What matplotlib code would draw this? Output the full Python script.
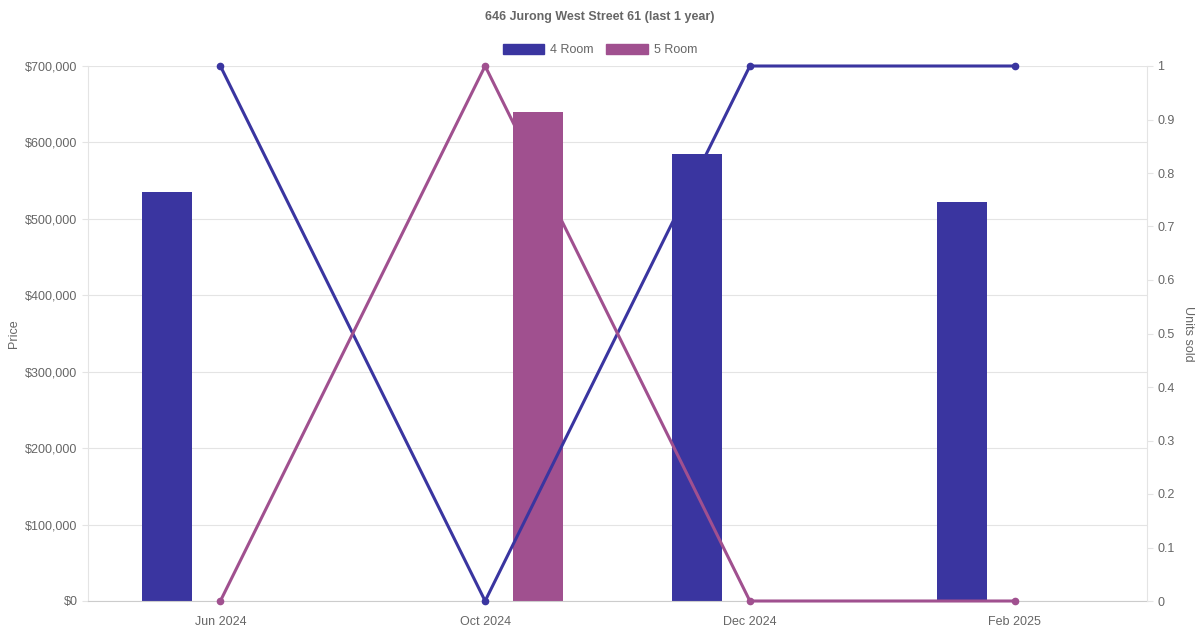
import numpy as np
import matplotlib
matplotlib.use('Agg')
import matplotlib.pyplot as plt
from matplotlib.patches import Patch

plt.rcParams['font.family'] = ['Liberation Sans', 'DejaVu Sans']

months = ['Jun 2024', 'Oct 2024', 'Dec 2024', 'Feb 2025']
price_4room = [535000, np.nan, 585000, 522000]
price_5room = [np.nan, 640000, np.nan, np.nan]
units_4room = [1, 0, 1, 1]
units_5room = [0, 1, 0, 0]

c4 = '#3a35a0'
c5 = '#a0508f'
txt = '#666666'
grid = '#e4e4e4'

fig = plt.figure(figsize=(12, 6.3), dpi=100)
ax = fig.add_axes([88/1200, 29/630, (1147-88)/1200, (601-66)/630])
ax2 = ax.twinx()

x = np.arange(len(months))
bw = 50/265.
ax.bar(x - 0.2, price_4room, width=bw, color=c4, zorder=2)
ax.bar(x + 0.2, price_5room, width=bw, color=c5, zorder=2)

ax.set_xlim(-0.5, 3.5)
ax.set_ylim(0, 700000)
ax.set_yticks(np.arange(0, 700001, 100000))
ax.set_yticklabels(['$' + format(v, ',') for v in range(0, 700001, 100000)])
ax.set_xticks(x)
ax.set_xticklabels(months)
ax.grid(axis='y', color=grid, lw=0.8, zorder=0)
ax.set_axisbelow(True)
ax.set_ylabel('Price', color=txt, fontsize=9)

ax2.plot(x, units_4room, color=c4, lw=2.2, marker='o', ms=4.5, zorder=3, clip_on=False)
ax2.plot(x, units_5room, color=c5, lw=2.2, marker='o', ms=4.5, zorder=3, clip_on=False)
ax2.set_ylim(0, 1)
ax2.set_yticks(np.arange(0, 1.01, 0.1))
ax2.set_yticklabels(['0', '0.1', '0.2', '0.3', '0.4', '0.5', '0.6', '0.7', '0.8', '0.9', '1'])
ax2.set_ylabel('Units sold', color=txt, fontsize=9, rotation=270, labelpad=14)

for a in (ax, ax2):
    for s in a.spines.values():
        s.set_visible(False)
    a.tick_params(colors=txt, labelsize=9, length=4, width=0.8)
    a.tick_params(axis='both', color=grid)
    a.tick_params(axis='x', length=0, pad=11)
ax.spines['left'].set_visible(True)
ax.spines['left'].set_color(grid)
ax.spines['bottom'].set_visible(True)
ax.spines['bottom'].set_color('#cccccc')
ax2.spines['right'].set_visible(True)
ax2.spines['right'].set_color(grid)

fig.text(0.5, 1 - 17/630, '646 Jurong West Street 61 (last 1 year)', ha='center', va='center',
         fontsize=9, fontweight='bold', color=txt)

handles = [Patch(color=c4, label='4 Room'), Patch(color=c5, label='5 Room')]
fig.legend(handles=handles, loc='center', bbox_to_anchor=(0.5, 1 - 50/630), ncol=2, frameon=False,
           fontsize=9, labelcolor=txt, handlelength=3.3, handleheight=0.9, columnspacing=1.0,
           handletextpad=0.5)

fig.savefig('out.png', dpi=100)
